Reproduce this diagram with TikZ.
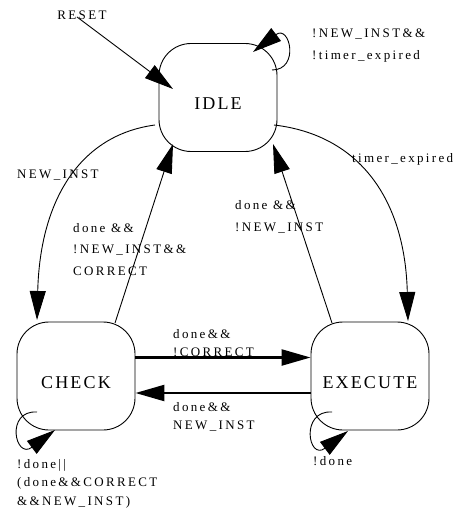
\documentclass[tikz,border=0pt]{standalone}
\usepackage{fontspec}
\setmainfont{Liberation Serif}
\newfontfamily\statefont[LetterSpace=12]{Liberation Serif}
\newfontfamily\condfont[LetterSpace=18]{Liberation Serif}
\usetikzlibrary{arrows.meta}

\begin{document}
\begin{tikzpicture}[x=1pt, y=-1pt,
    state/.style={draw, line width=0.9pt, rounded corners=32pt,
      minimum width=118pt, minimum height=108pt,
      text height=24pt, text depth=0pt,
      font=\statefont\fontsize{18}{20}\selectfont},
    cond/.style={align=left, inner sep=0pt,
      font=\condfont\fontsize{13}{18}\selectfont},
    trans/.style={line width=0.9pt, -{Triangle[length=29pt, width=16pt]}},
    bold trans/.style={trans, line width=2.4pt}]

        \useasboundingbox (0,0) rectangle (453,510);

        % States
        \node[state] (idle) at (218,97.5) {IDLE};
        \node[state] (check) at (76,376) {CHECK};
        \node[state] (execute) at (370,376) {EXECUTE};

        % Reset into IDLE
        \node[cond, anchor=base] (reset) at (82,19.5) {RESET};
        \draw[trans] ([shift={(-5,-2.5)}]reset.base) -- ([shift={(-45,-8.5)}]idle.center);

        % Stay in IDLE (base = last line)
        \draw[trans] ([shift={(54,-27.5)}]idle.center) .. controls +(28,0) and +(37,-28) .. ([shift={(35,-45.5)}]idle.center);
        \node[cond, anchor=base west] (idlestay) at (312,59.5) {!NEW\_INST\&\&\\[3.5pt]!timer\_expired};

        % IDLE to CHECK
        \draw[trans] ([shift={(-63,27.5)}]idle.center) .. controls +(-75,10) and +(3,-120) .. ([shift={(-39,-56)}]check.center);
        \node[cond, anchor=base west] (tocheck) at (17,179) {NEW\_INST};

        % CHECK back to IDLE
        \draw[trans] ([shift={(39,-53)}]check.center) -- ([shift={(-45,46.5)}]idle.center);
        \node[cond, anchor=base west] (checkidle) at (73,275) {done \&\&\\[3.5pt]!NEW\_INST\&\&\\[3.5pt]CORRECT};

        % EXECUTE back to IDLE
        \draw[trans] ([shift={(-38,-53)}]execute.center) -- ([shift={(55,46.5)}]idle.center);
        \node[cond, anchor=base west] (execidle) at (235,231.5) {done \&\&\\[4pt]!NEW\_INST};

        % IDLE to EXECUTE
        \draw[trans] ([shift={(56,27.5)}]idle.center) .. controls +(86,10) and +(-3,-121) .. ([shift={(38,-55)}]execute.center);
        \node[cond, anchor=base west] (toexec) at (352,163) {timer\_expired};

        % CHECK to EXECUTE and back
        \draw[bold trans] ([yshift=18.5pt]check.east) -- ([yshift=18.5pt]execute.west);
        \node[cond, anchor=base west] (checkexec) at (173,356) {done\&\&\\!CORRECT};
        \draw[bold trans] ([yshift=-17pt]execute.west) -- ([yshift=-17pt]check.east);
        \node[cond, anchor=base west] (execcheck) at (173,429) {done\&\&\\NEW\_INST};

        % Stay in CHECK
        \draw[trans] ([shift={(-39,36)}]check.center) .. controls +(-32,-2) and +(-40,30) .. ([shift={(-21,54)}]check.center);
        \node[cond, anchor=base west] (checkstay) at (17,505) {!done||\\[0.5pt](done\&\&CORRECT\\[0.5pt]\&\&NEW\_INST)};

        % Stay in EXECUTE
        \draw[trans] ([shift={(-38,36)}]execute.center) .. controls +(-32,-2) and +(-40,30) .. ([shift={(-22,55)}]execute.center);
        \node[cond, anchor=base west] (execstay) at (313,465) {!done};

      \end{tikzpicture}
\end{document}
